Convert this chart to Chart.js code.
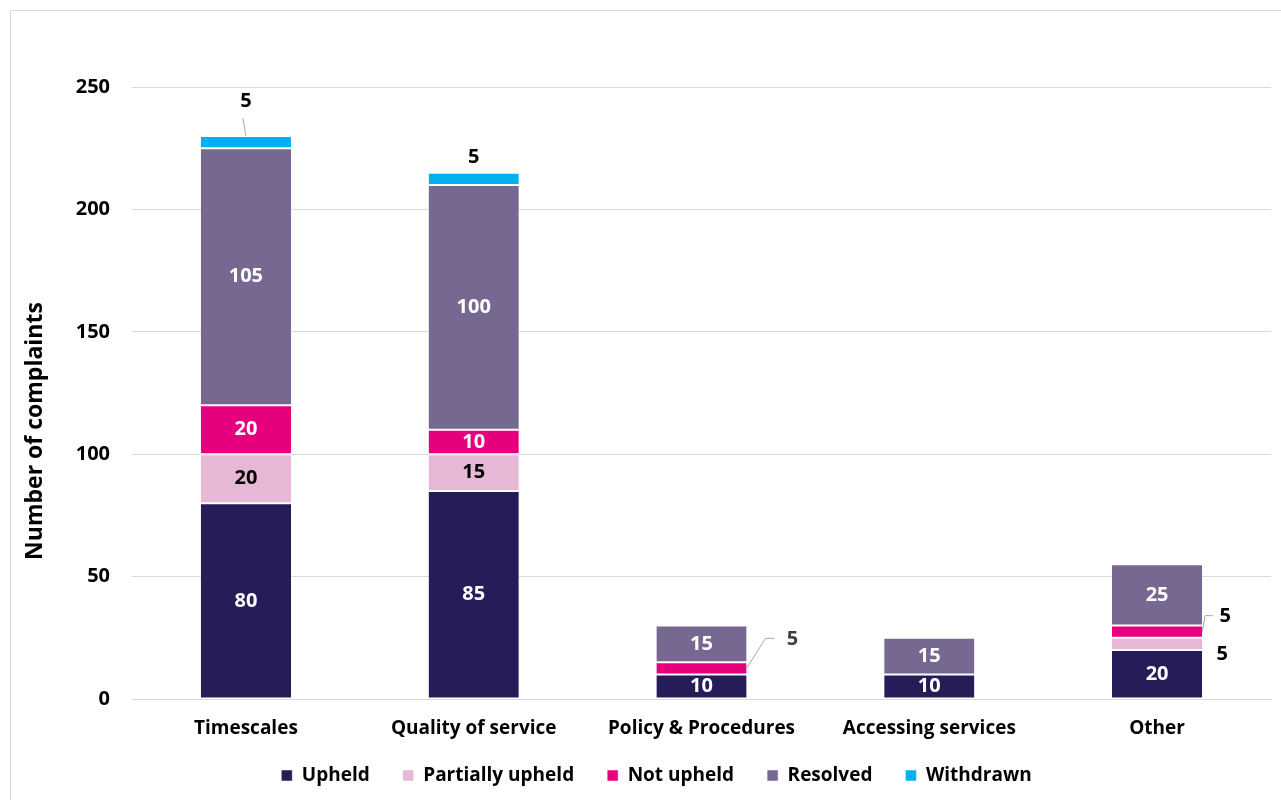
<!DOCTYPE html>
<html>
<head>
<meta charset="utf-8">
<script src="https://cdn.jsdelivr.net/npm/chart.js@4.4.0/dist/chart.umd.min.js"></script>
<style>
    body { margin: 0; background: #fff; }
    #wrap { position: relative; width: 1281px; height: 800px; overflow: hidden; }
    #frame { position: absolute; left: 10px; top: 10px; width: 1300px; height: 820px; border: 1px solid #d9d9d9; box-sizing: border-box; pointer-events: none; }
    canvas { position: absolute; left: 0; top: 0; }
</style>
</head>
<body>
<div id="wrap">
    <canvas id="complaintsChart" width="1281" height="800"></canvas>
    <div id="frame"></div>
</div>
<script>
// Chart data
const categories = ['Timescales', 'Quality of service', 'Policy & Procedures', 'Accessing services', 'Other'];
const upheld = [80, 85, 10, 10, 20];
const partiallyUpheld = [20, 15, 0, 0, 5];
const notUpheld = [20, 10, 5, 0, 5];
const resolved = [105, 100, 15, 15, 25];
const withdrawn = [5, 5, 0, 0, 0];
const yTicks = [0, 50, 100, 150, 200, 250];
const yTitle = 'Number of complaints';

const FONT = '"Open Sans", "Noto Sans", sans-serif';

// labels that sit outside their segment, offsets in px from the segment centre
// kink/end: x offsets (from label x) of the leader line's bend and end
const outsideLabels = [
    { ds: 4, i: 0, dx: 0, dy: -41, leader: 'up' },
    { ds: 4, i: 1, dx: 0, dy: -22, leader: null },
    { ds: 2, i: 2, dx: 91, dy: -29, leader: 'side', kink: -27, end: -18 },
    { ds: 2, i: 4, dx: 68, dy: -15, leader: 'side', kink: -20, end: -12 },
    { ds: 1, i: 4, dx: 65, dy: 10, leader: null }
];

const labelColors = ['#ffffff', '#000000', '#ffffff', '#ffffff', '#000000'];

const segmentLabels = {
    id: 'segmentLabels',
    afterLayout(chart) {
        // legend sits a little right of centre in the original
        chart.legend.left += 11;
        chart.legend.right += 11;
    },
    afterDatasetsDraw(chart) {
        const ctx = chart.ctx;
        ctx.save();
        ctx.font = 'bold 20px ' + FONT;
        ctx.textAlign = 'center';
        ctx.textBaseline = 'middle';
        chart.data.datasets.forEach((ds, d) => {
            const meta = chart.getDatasetMeta(d);
            meta.data.forEach((bar, i) => {
                const v = ds.data[i];
                if (!v) return;
                const cx = bar.x;
                const top = Math.min(bar.y, bar.base);
                const cy = (bar.y + bar.base) / 2;
                const right = bar.x + bar.width / 2;
                const out = outsideLabels.find(o => o.ds === d && o.i === i);
                if (out) {
                    const lx = cx + out.dx;
                    const ly = cy + out.dy;
                    ctx.strokeStyle = '#a6a6a6';
                    ctx.lineWidth = 1;
                    if (out.leader === 'up') {
                        ctx.beginPath();
                        ctx.moveTo(lx - 3, ly + 17);
                        ctx.lineTo(lx, top);
                        ctx.stroke();
                    } else if (out.leader === 'side') {
                        ctx.beginPath();
                        ctx.moveTo(right, cy);
                        ctx.lineTo(lx + out.kink, ly - 1);
                        ctx.lineTo(lx + out.end, ly - 1);
                        ctx.stroke();
                    }
                    ctx.fillStyle = d === 2 && i === 2 ? '#404040' : '#000000';
                    ctx.fillText(String(v), lx, ly);
                } else {
                    ctx.fillStyle = labelColors[d];
                    ctx.fillText(String(v), cx, cy);
                }
            });
        });

        // y axis title
        ctx.translate(35, 431);
        ctx.rotate(-Math.PI / 2);
        ctx.font = 'bold 23px ' + FONT;
        ctx.fillStyle = '#000';
        ctx.fillText(yTitle, 0, 0);
        ctx.restore();
    }
};

function makeSet(label, data, color) {
    return {
        label: label,
        data: data,
        backgroundColor: color,
        borderColor: '#ffffff',
        borderWidth: { top: 1, bottom: 1, left: 0, right: 0 },
        borderSkipped: false,
        categoryPercentage: 1,
        barPercentage: 0.396
    };
}

new Chart(document.getElementById('complaintsChart'), {
    type: 'bar',
    data: {
        labels: categories,
        datasets: [
            makeSet('Upheld', upheld, '#261c58'),
            makeSet('Partially upheld', partiallyUpheld, '#e6b8d5'),
            makeSet('Not upheld', notUpheld, '#e6007e'),
            makeSet('Resolved', resolved, '#766891'),
            makeSet('Withdrawn', withdrawn, '#00b0f0')
        ]
    },
    options: {
        responsive: false,
        animation: false,
        layout: { padding: { left: 20, right: 10, top: 87, bottom: 5 } },
        plugins: {
            legend: {
                position: 'bottom',
                labels: {
                    color: '#000',
                    font: { family: FONT, size: 19, weight: 'bold' },
                    boxWidth: 11,
                    boxHeight: 11,
                    padding: 33
                }
            },
            tooltip: { enabled: false }
        },
        scales: {
            x: {
                stacked: true,
                grid: { display: false, drawTicks: false },
                border: { color: '#d9d9d9' },
                ticks: { color: '#000', padding: 18, font: { family: FONT, size: 19, weight: 'bold' } },
                afterFit(scale) {
                    scale.height = 34;
                    // tick labels overhang the short scale box, so don't clip them
                    scale._computeLabelArea = () => undefined;
                }
            },
            y: {
                stacked: true,
                min: 0,
                max: 250,
                afterBuildTicks(scale) { scale.ticks = yTicks.map(v => ({ value: v })); },
                grid: { color: '#d9d9d9', drawTicks: false },
                border: { display: false },
                ticks: { color: '#000', padding: 22, font: { family: FONT, size: 20, weight: 'bold' } },
                afterFit(scale) { scale.width = 112; }
            }
        }
    },
    plugins: [segmentLabels]
});
</script>
</body>
</html>
